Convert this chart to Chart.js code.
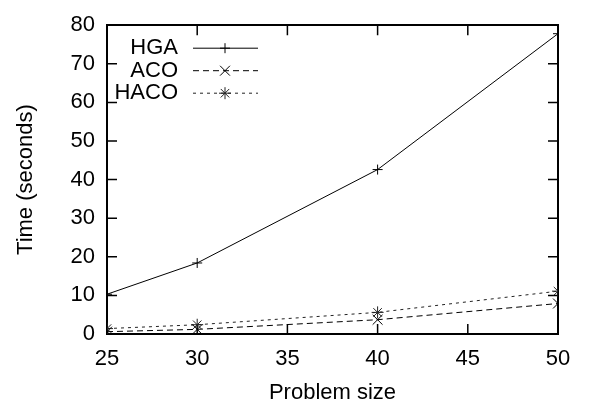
<!DOCTYPE html>
<html>
<head>
<meta charset="utf-8">
<script src="https://cdn.jsdelivr.net/npm/chart.js@4"></script>
<style>
  html, body { margin: 0; padding: 0; background: #fff; }
  #wrap { width: 596px; height: 407px; }
</style>
</head>
<body>
<div id="wrap"><canvas id="chart" width="596" height="407"></canvas></div>
<script>
// ── Data ──────────────────────────────────────────────────────────────
const problemSizes = [25, 30, 40, 50];
const hgaTimes     = [10.3, 18.4, 42.6, 77.8];
const acoTimes     = [0.6, 1.2, 3.7, 7.9];
const hacoTimes    = [1.4, 2.4, 5.6, 11.1];
const xTickValues  = [25, 30, 35, 40, 45, 50];
const yTickValues  = [0, 10, 20, 30, 40, 50, 60, 70, 80];

const FONT = '"Liberation Sans", Arial, Helvetica, sans-serif';
Chart.defaults.font.family = FONT;
Chart.defaults.font.size = 22;
Chart.defaults.color = '#000';

const toPoints = ys => problemSizes.map((x, i) => ({ x, y: ys[i] }));

// ── Plugins: gnuplot-style inward ticks + key ─────────────────────────

const innerTicks = {
    id: 'innerTicks',
    beforeDatasetsDraw(chart) {
        const { ctx, chartArea: a } = chart;
        const len = 10;
        ctx.save();
        ctx.strokeStyle = '#000';
        ctx.lineWidth = 1.5;
        ctx.beginPath();
        xTickValues.forEach(v => {
            const px = chart.scales.x.getPixelForValue(v);
            ctx.moveTo(px, a.bottom); ctx.lineTo(px, a.bottom - len);
            ctx.moveTo(px, a.top);    ctx.lineTo(px, a.top + len);
        });
        yTickValues.forEach(v => {
            const py = chart.scales.y.getPixelForValue(v);
            ctx.moveTo(a.left, py);  ctx.lineTo(a.left + len, py);
            ctx.moveTo(a.right, py); ctx.lineTo(a.right - len, py);
        });
        ctx.stroke();
        ctx.restore();
    },
};

const keyBox = {
    id: 'keyBox',
    afterDraw(chart) {
        const { ctx, chartArea: a } = chart;
        chart.data.datasets.forEach((ds, i) => {
            const y = a.top + 23 + i * 22.5;
            ctx.save();
            ctx.font = `22px ${FONT}`;
            ctx.fillStyle = '#000';
            ctx.textAlign = 'right';
            ctx.textBaseline = 'middle';
            ctx.fillText(ds.label, a.left + 71, y);

            ctx.strokeStyle = ds.borderColor;
            ctx.lineWidth = ds.borderWidth;
            ctx.setLineDash(ds.borderDash || []);
            ctx.beginPath();
            ctx.moveTo(a.left + 86, y);
            ctx.lineTo(a.left + 151, y);
            ctx.stroke();
            ctx.setLineDash([]);
            Chart.helpers.drawPoint(ctx, {
                pointStyle: ds.pointStyle,
                radius: ds.pointRadius,
                borderWidth: ds.pointBorderWidth,
                rotation: 0,
            }, a.left + 118, y);
            ctx.restore();
        });
    },
};

// ── Chart ─────────────────────────────────────────────────────────────

const lineSet = (label, ys, dash, style, radius, color) => ({
    label,
    data: toPoints(ys),
    borderColor: color,
    backgroundColor: color,
    borderWidth: 1,
    borderDash: dash,
    pointStyle: style,
    pointRadius: radius,
    pointBorderWidth: 1,
    pointBorderColor: color,
    pointBackgroundColor: color,
    tension: 0,
    fill: false,
});

new Chart(document.getElementById('chart'), {
    type: 'line',
    data: {
        datasets: [
            lineSet('HGA',  hgaTimes,  [],     'cross',    5, '#000'),
            lineSet('ACO',  acoTimes,  [6, 4], 'crossRot', 7, '#000'),
            lineSet('HACO', hacoTimes, [3, 4], 'star',     6, '#222'),
        ],
    },
    options: {
        responsive: false,
        animation: false,
        events: [],
        layout: { padding: 0 },
        plugins: {
            legend:  { display: false },
            tooltip: { enabled: false },
        },
        scales: {
            x: {
                type: 'linear',
                position: 'bottom',
                min: 25, max: 50,
                afterBuildTicks: s => { s.ticks = xTickValues.map(value => ({ value })); },
                afterFit: s => { s.height = 73; },
                grid:   { display: false, drawTicks: false },
                border: { display: true, color: '#000', width: 2 },
                ticks:  { padding: 12, maxRotation: 0 },
                title:  { display: true, text: 'Problem size', padding: { top: 0, bottom: 1 } },
            },
            x2: {
                type: 'linear',
                position: 'top',
                min: 25, max: 50,
                afterFit: s => { s.height = 14; },
                grid:   { display: false, drawTicks: false },
                border: { display: true, color: '#000', width: 2 },
                ticks:  { display: false },
            },
            y: {
                type: 'linear',
                position: 'left',
                min: 0, max: 80,
                afterBuildTicks: s => { s.ticks = yTickValues.map(value => ({ value })); },
                afterFit: s => { s.width = 107; },
                grid:   { display: false, drawTicks: false },
                border: { display: true, color: '#000', width: 2 },
                ticks:  { padding: 12 },
                title:  { display: true, text: 'Time (seconds)', padding: { top: 13, bottom: 0 } },
            },
            y2: {
                type: 'linear',
                position: 'right',
                min: 0, max: 80,
                afterFit: s => { s.width = 38; },
                grid:   { display: false, drawTicks: false },
                border: { display: true, color: '#000', width: 2 },
                ticks:  { display: false },
            },
        },
    },
    plugins: [innerTicks, keyBox],
});
</script>
</body>
</html>
